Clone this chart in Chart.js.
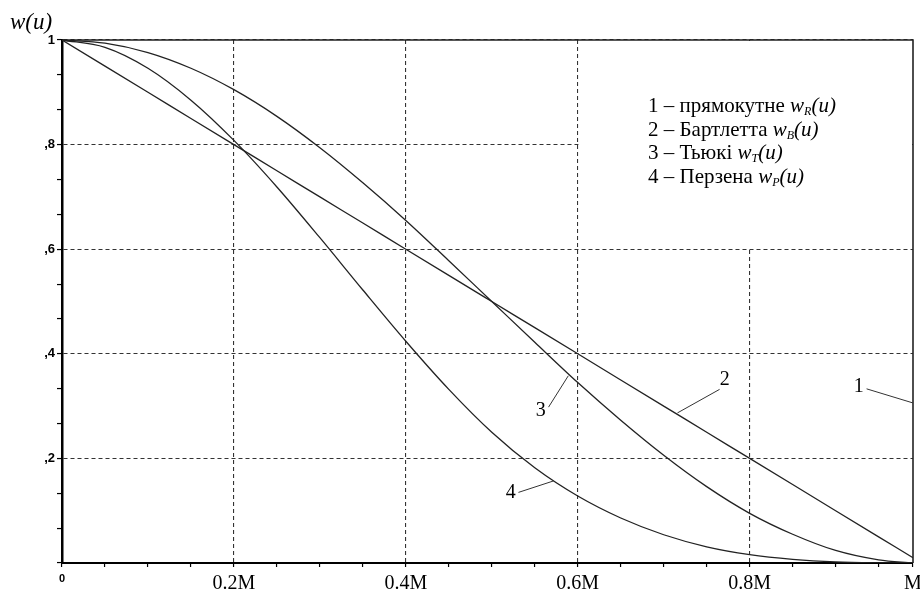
<!DOCTYPE html>
<html><head><meta charset="utf-8">
<script src="https://cdn.jsdelivr.net/npm/chart.js@4/dist/chart.umd.min.js"></script>
<style>html,body{margin:0;padding:0;background:#fff}#wrap{width:920px;height:592px;position:relative}</style>
</head><body><div id="wrap"><canvas id="c" width="920" height="592"></canvas></div>
<script>
// u = lag / M
const u = [0,0.05,0.1,0.15,0.2,0.25,0.3,0.35,0.4,0.45,0.5,0.55,0.6,0.65,0.7,0.75,0.8,0.85,0.9,0.95,0.99];
const bartlett = [1,0.95,0.9,0.85,0.8,0.75,0.7,0.65,0.6,0.55,0.5,0.45,0.4,0.35,0.3,0.25,0.2,0.15,0.1,0.05,0.01];
const tukey = [1,0.994,0.976,0.946,0.905,0.854,0.794,0.727,0.655,0.578,0.5,0.422,0.345,0.273,0.206,0.146,0.095,0.055,0.024,0.006,0];
const parzen = [1,0.986,0.946,0.885,0.808,0.719,0.622,0.522,0.424,0.332,0.25,0.182,0.128,0.086,0.054,0.031,0.016,0.007,0.002,0.0003,0];
const rectX = [0,0.99,0.99];
const rectY = [1,1,0];

const xTickValues = [0,0.05,0.1,0.15,0.2,0.25,0.3,0.35,0.4,0.45,0.5,0.55,0.6,0.65,0.7,0.75,0.8,0.85,0.9,0.95,0.99];
const xMajorValues = [0,0.2,0.4,0.6,0.8,0.99];
const xMajorLabels = ['0','0.2M','0.4M','0.6M','0.8M','M'];
const yTickValues = [0,0.0667,0.1333,0.2,0.2667,0.3333,0.4,0.4667,0.5333,0.6,0.6667,0.7333,0.8,0.8667,0.9333,1];
const yMajorValues = [0.2,0.4,0.6,0.8,1];
const yMajorLabels = [',2',',4',',6',',8','1'];
const xGridValues = [0.2,0.4,0.6,0.8];
const yGridValues = [0.2,0.4,0.6,0.8,1];

const legendItems = [
  {pre:'1 – прямокутне ', sub:'R'},
  {pre:'2 – Бартлетта ', sub:'B'},
  {pre:'3 – Тьюкі ', sub:'T'},
  {pre:'4 – Перзена ', sub:'P'}
];
// curve number labels, in data units
const curveLabels = ['1','2','3','4'];
const curveLabelPos = [[0.927,0.337],[0.771,0.351],[0.557,0.291],[0.522,0.135]];
const leaderFrom = [[0.936,0.333],[0.765,0.332],[0.566,0.298],[0.531,0.135]];
const leaderTo = [[0.99,0.306],[0.716,0.287],[0.589,0.358],[0.572,0.157]];

const SERIF = '"Liberation Serif", "Times New Roman", serif';
const SANS = '"Liberation Sans", Arial, sans-serif';
const near = (a,b) => Math.abs(a-b) < 1e-3;
const inList = (v, list) => list.some(x => near(x, v));
const pts = (xs, ys) => xs.map((x,i) => ({x, y: ys[i]}));
const lineDs = (data, w, clip) => ({data, borderColor:'#222', borderWidth:w, pointRadius:0, fill:false, cubicInterpolationMode:'monotone', clip});

const decor = {
  id:'decor',
  beforeDatasetsDraw(chart){
    const {ctx, chartArea:a, scales:{x,y}} = chart;
    ctx.save();
    ctx.fillStyle = '#fff';
    const x0 = x.getPixelForValue(0.6) + 1, y1 = y.getPixelForValue(0.6) - 1;
    ctx.fillRect(x0, a.top + 1, a.right - x0 - 1, y1 - a.top - 1);
    ctx.restore();
  },
  afterDatasetsDraw(chart){
    const {ctx, chartArea:a, scales:{x,y}} = chart;
    ctx.save();
    // title
    ctx.fillStyle = '#000';
    ctx.font = 'italic 23px ' + SERIF;
    ctx.textBaseline = 'alphabetic';
    ctx.textAlign = 'left';
    ctx.fillText('w(u)', 10, 29);
    // legend
    let ly = 112;
    legendItems.forEach(it => {
      let lx = 648;
      ctx.font = '21px ' + SERIF;
      ctx.fillText(it.pre, lx, ly); lx += ctx.measureText(it.pre).width;
      ctx.font = 'italic 21px ' + SERIF;
      ctx.fillText('w', lx, ly); lx += ctx.measureText('w').width;
      ctx.font = 'italic 12px ' + SERIF;
      ctx.fillText(it.sub, lx, ly + 3); lx += ctx.measureText(it.sub).width;
      ctx.font = 'italic 21px ' + SERIF;
      ctx.fillText('(u)', lx, ly);
      ly += 23.5;
    });
    // curve labels + leaders
    ctx.strokeStyle = '#333'; ctx.lineWidth = 1;
    ctx.font = '20px ' + SERIF;
    ctx.textAlign = 'center'; ctx.textBaseline = 'middle';
    curveLabels.forEach((t,i) => {
      ctx.beginPath();
      ctx.moveTo(x.getPixelForValue(leaderFrom[i][0]), y.getPixelForValue(leaderFrom[i][1]));
      ctx.lineTo(x.getPixelForValue(leaderTo[i][0]), y.getPixelForValue(leaderTo[i][1]));
      ctx.stroke();
      ctx.fillText(t, x.getPixelForValue(curveLabelPos[i][0]), y.getPixelForValue(curveLabelPos[i][1]));
    });
    ctx.restore();
  }
};

new Chart(document.getElementById('c'), {
  type:'line',
  data:{datasets:[
    lineDs(pts(rectX, rectY), 1.6, false),
    lineDs(pts(u, bartlett), 1.3),
    lineDs(pts(u, tukey), 1.3),
    lineDs(pts(u, parzen), 1.3)
  ]},
  plugins:[decor],
  options:{
    responsive:false, animation:false, devicePixelRatio:1,
    layout:{padding:{top:40, right:7, left:0, bottom:0}},
    plugins:{legend:{display:false}, tooltip:{enabled:false}},
    scales:{
      x:{
        type:'linear', min:0, max:0.99,
        afterBuildTicks(s){ s.ticks = xTickValues.map(v => ({value:v})); },
        afterFit(s){ s.height = 29; s.paddingLeft = 0; s.paddingRight = 0; },
        border:{display:true, color:'#000', width:2, dash:[4,3]},
        grid:{
          color: c => (c.tick && inList(c.tick.value, xGridValues)) ? '#333' : 'rgba(0,0,0,0)',
          tickColor:'#000', tickLength:4, lineWidth:1.1, tickWidth:1.2,
          tickBorderDash:[]
        },
        ticks:{
          autoSkip:false, maxRotation:0, padding:5, color:'#000',
          callback:(v) => { const i = xMajorValues.findIndex(m => near(m, v)); return i >= 0 ? xMajorLabels[i] : ''; },
          font: c => (c.tick && near(c.tick.value, 0)) ? {family:SANS, size:11, weight:'bold'} : {family:SERIF, size:20}
        }
      },
      y:{
        type:'linear', min:0, max:1,
        afterBuildTicks(s){ s.ticks = yTickValues.map(v => ({value:v})); },
        afterFit(s){ s.width = 62; s.paddingTop = 0; s.paddingBottom = 0; },
        border:{display:true, color:'#000', width:2.5, dash:[4,3]},
        grid:{
          color: c => (c.tick && inList(c.tick.value, yGridValues)) ? '#333' : 'rgba(0,0,0,0)',
          tickColor:'#000', tickLength:5, lineWidth:1.1, tickWidth:1.2,
          tickBorderDash:[]
        },
        ticks:{
          autoSkip:false, padding:2, color:'#000',
          callback:(v) => { const i = yMajorValues.findIndex(m => near(m, v)); return i >= 0 ? yMajorLabels[i] : ''; },
          font:{family:SANS, size:13, weight:'bold'}
        }
      }
    }
  }
});
</script></body></html>
